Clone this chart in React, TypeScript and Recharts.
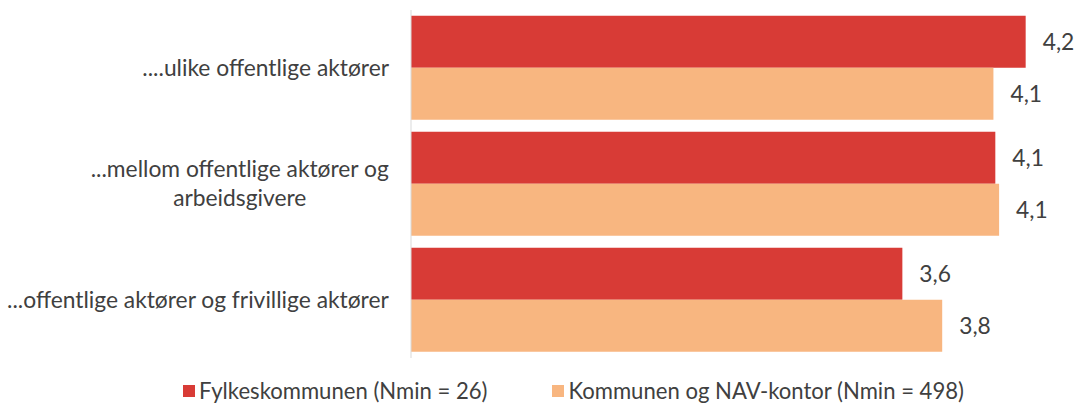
import { Bar, BarChart, Legend, LabelList, XAxis, YAxis } from "recharts";

const categories = [
  "....ulike offentlige aktører",
  "...mellom offentlige aktører og\narbeidsgivere",
  "...offentlige aktører og frivillige aktører",
];
const fylkeskommunen = [4.24, 4.08, 3.59];
const kommunen = [4.07, 4.1, 3.8];

const seriesNames = ["Fylkeskommunen (Nmin = 26)", "Kommunen og NAV-kontor (Nmin = 498)"];
const colors = ["#D83B36", "#F8B680"];

const FONT = "Lato, sans-serif";
const FONT_SIZE = 22.8;
const LEGEND_SIZE = 22.1;
const TEXT = "#404040";

const data = categories.map((category, i) => ({
  category,
  fylke: fylkeskommunen[i],
  kommune: kommunen[i],
}));

let ctx: CanvasRenderingContext2D | null = null;
function measure(text: string) {
  if (!ctx) ctx = document.createElement("canvas").getContext("2d");
  if (!ctx) return text.length * 9;
  ctx.font = `${FONT_SIZE}px Lato`;
  return ctx.measureText(text).width;
}

// Excel-style tick: lines centred on each other, block right-aligned to the axis.
function CategoryTick({ x, y, payload }: any) {
  const lines = String(payload.value).split("\n");
  const widest = Math.max(...lines.map(measure));
  const cx = x - widest / 2;
  const lineHeight = 29;
  const first = y - ((lines.length - 1) * lineHeight) / 2;
  return (
    <text textAnchor="middle" fill={TEXT} fontSize={FONT_SIZE} fontFamily={FONT}>
      {lines.map((line, i) => (
        <tspan key={i} x={cx} y={first + i * lineHeight} dy="0.35em">
          {line}
        </tspan>
      ))}
    </text>
  );
}

const fmt = (v: any) => Number(v).toFixed(1).replace(".", ",");

function LegendContent() {
  return (
    <div style={{ display: "flex", justifyContent: "center", gap: 65, paddingLeft: 72, fontFamily: FONT, fontSize: LEGEND_SIZE, color: TEXT, lineHeight: "24px" }}>
      {seriesNames.map((name, i) => (
        <div key={name} style={{ display: "flex", alignItems: "center", gap: 4 }}>
          <span style={{ width: 12, height: 12, background: colors[i], display: "inline-block" }} />
          <span>{name}</span>
        </div>
      ))}
    </div>
  );
}

export default function App() {
  return (
    <div style={{ position: "fixed", left: 0, top: 0, width: 1075, height: 405, background: "#fff" }}>
      <BarChart
        width={1075}
        height={405}
        layout="vertical"
        data={data}
        margin={{ top: 10, right: 0, bottom: 47, left: 0 }}
        barCategoryGap="5%"
        barGap={0}
      >
        <XAxis type="number" domain={[1, 4.5]} hide />
        <YAxis
          type="category"
          dataKey="category"
          width={411}
          tickLine={false}
          tickSize={0}
          tickMargin={22}
          axisLine={{ stroke: "#D9D9D9" }}
          tick={<CategoryTick />}
          interval={0}
        />
        <Legend verticalAlign="middle" content={<LegendContent />} wrapperStyle={{ top: 379, left: 0, width: 1075 }} />
        <Bar dataKey="fylke" name={seriesNames[0]} fill={colors[0]} isAnimationActive={false}>
          <LabelList dataKey="fylke" position="right" offset={17} formatter={fmt} fill={TEXT} fontSize={FONT_SIZE} fontFamily={FONT} />
        </Bar>
        <Bar dataKey="kommune" name={seriesNames[1]} fill={colors[1]} isAnimationActive={false}>
          <LabelList dataKey="kommune" position="right" offset={17} formatter={fmt} fill={TEXT} fontSize={FONT_SIZE} fontFamily={FONT} />
        </Bar>
      </BarChart>
    </div>
  );
}
